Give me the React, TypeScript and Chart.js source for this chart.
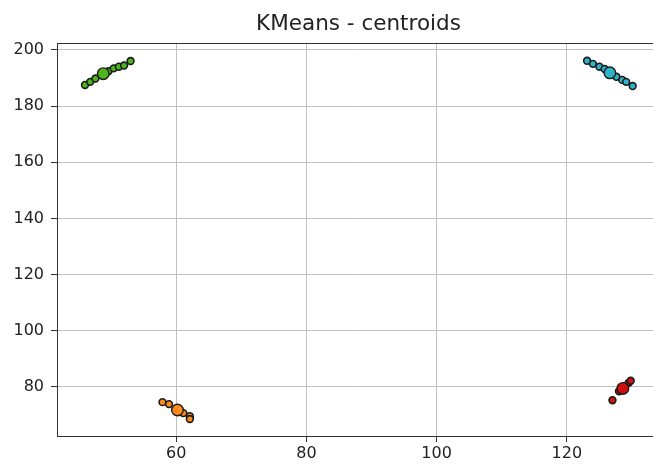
import React, { useEffect, useRef } from "react";
import { Chart, registerables } from "chart.js";

Chart.register(...registerables);

const TITLE = "KMeans - centroids";

const xTicks = [60, 80, 100, 120];
const yTicks = [80, 100, 120, 140, 160, 180, 200];

const greenX = [46.0, 46.8, 47.6, 49.6, 50.4, 51.2, 52.0, 53.0];
const greenY = [187.5, 188.6, 189.8, 192.4, 193.4, 194.0, 194.4, 196.0];
const greenCentroid = [48.8, 191.5];

const cyanX = [123.1, 124.0, 125.0, 125.8, 127.6, 128.5, 129.1, 130.1];
const cyanY = [196.1, 195.0, 194.0, 193.2, 190.4, 189.3, 188.6, 187.1];
const cyanCentroid = [126.6, 191.8];

const orangeX = [57.9, 58.9, 61.1, 62.1, 62.1];
const orangeY = [74.6, 73.9, 70.7, 69.6, 68.6];
const orangeCentroid = [60.2, 71.8];

const redX = [127.0, 128.0, 128.8, 129.5, 129.8];
const redY = [75.3, 78.5, 80.3, 81.5, 82.2];
const redCentroid = [128.6, 79.5];

const clusters = [
  { xs: greenX, ys: greenY, c: greenCentroid, color: "#4db51c" },
  { xs: cyanX, ys: cyanY, c: cyanCentroid, color: "#2fb3c8" },
  { xs: orangeX, ys: orangeY, c: orangeCentroid, color: "#ff8a1c" },
  { xs: redX, ys: redY, c: redCentroid, color: "#d10f0f" },
];

const framePlugin = {
  id: "frame",
  beforeDatasetsDraw(chart: any) {
    const { ctx, chartArea } = chart;
    ctx.save();
    ctx.strokeStyle = "#333";
    ctx.lineWidth = 1;
    const l = Math.round(chartArea.left) + 0.5;
    const t = Math.round(chartArea.top) + 0.5;
    const r = Math.round(chartArea.right) + 0.5;
    const b = Math.round(chartArea.bottom) + 0.5;
    ctx.strokeRect(l, t, r - l, b - t);
    ctx.restore();
  },
};

export default function App() {
  const ref = useRef<HTMLCanvasElement>(null);
  useEffect(() => {
    if (!ref.current) return;
    const datasets: any[] = [];
    clusters.forEach((cl) => {
      datasets.push({
        data: cl.xs.map((x, i) => ({ x, y: cl.ys[i] })),
        backgroundColor: cl.color,
        borderColor: "#1a1a1a",
        borderWidth: 1.6,
        pointRadius: 3.4,
        order: 2,
      });
      datasets.push({
        data: [{ x: cl.c[0], y: cl.c[1] }],
        backgroundColor: cl.color,
        borderColor: "#1a1a1a",
        borderWidth: 1.4,
        pointRadius: 5.8,
        order: 1,
      });
    });
    const chart = new Chart(ref.current, {
      type: "scatter",
      data: { datasets },
      plugins: [framePlugin],
      options: {
        animation: false,
        responsive: false,
        maintainAspectRatio: false,
        layout: { padding: { left: 0, right: 10, top: 0, bottom: 0 } },
        plugins: {
          legend: { display: false },
          tooltip: { enabled: false },
          title: {
            display: true,
            text: TITLE,
            fullSize: false,
            color: "#222",
            font: { family: "DejaVu Sans", size: 21.5, weight: "normal" },
            padding: { top: 12, bottom: 5 },
          },
        },
        scales: {
          x: {
            type: "linear",
            min: 41.7,
            max: 134.3,
            afterBuildTicks: (s: any) => {
              s.ticks = xTicks.map((v) => ({ value: v }));
            },
            afterFit: (s: any) => {
              s.height = 31;
            },
            border: { display: false },
            grid: { color: "#c0c0c0", tickColor: "#333", tickLength: 6, lineWidth: 1 },
            ticks: {
              color: "#222",
              padding: 2,
              maxRotation: 0,
              font: { family: "DejaVu Sans", size: 16 },
            },
          },
          y: {
            type: "linear",
            min: 62.55,
            max: 202.5,
            afterBuildTicks: (s: any) => {
              s.ticks = yTicks.map((v) => ({ value: v }));
            },
            afterFit: (s: any) => {
              s.width = 57;
            },
            border: { display: false },
            grid: { color: "#c0c0c0", tickColor: "#333", tickLength: 6, lineWidth: 1 },
            ticks: {
              color: "#222",
              padding: 7,
              font: { family: "DejaVu Sans", size: 16 },
            },
          },
        },
      },
    });
    return () => chart.destroy();
  }, []);
  return (
    <div
      style={{
        position: "fixed",
        left: 0,
        top: 0,
        width: 653,
        height: 467,
        overflow: "hidden",
        background: "#fff",
      }}
    >
      <canvas ref={ref} width={670} height={467} style={{ width: 670, height: 467, display: "block" }} />
    </div>
  );
}
